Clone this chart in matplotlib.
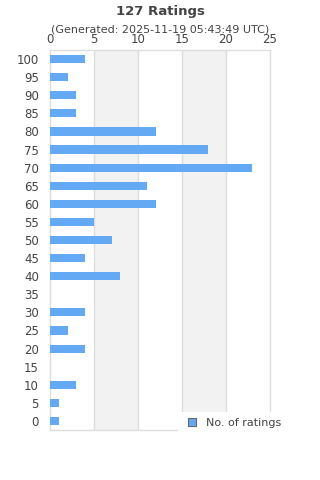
import matplotlib
matplotlib.use("Agg")
import matplotlib.pyplot as plt
from matplotlib.patches import Patch, Rectangle

categories = ["100", "95", "90", "85", "80", "75", "70", "65", "60", "55", "50",
              "45", "40", "35", "30", "25", "20", "15", "10", "5", "0"]
counts = [4, 2, 3, 3, 12, 18, 23, 11, 12, 5, 7, 4, 8, 0, 4, 2, 4, 0, 3, 1, 1]
x_ticks = [0, 5, 10, 15, 20, 25]
title = "127 Ratings"
subtitle = "(Generated: 2025-11-19 05:43:49 UTC)"
series_name = "No. of ratings"

bar_color = "#63a9f3"
text_color = "#444444"

fig = plt.figure(figsize=(3.2, 4.8), dpi=100)
ax = fig.add_axes([50/320, 1 - 430/480, 220/320, 380/480])

ypos = list(range(len(categories)))
ax.barh(ypos, counts, height=0.45, color=bar_color, zorder=3)
ax.set_ylim(len(categories) - 0.5, -0.5)
ax.set_xlim(0, 25)

# alternating bands
for i in range(len(x_ticks) - 1):
    if i % 2 == 1:
        ax.axvspan(x_ticks[i], x_ticks[i + 1], color="#f2f2f2", zorder=0, lw=0)
for t in x_ticks[1:-1]:
    ax.axvline(t, color="#dddddd", lw=1, zorder=1)

ax.set_yticks(ypos)
ax.set_yticklabels(categories)
ax.set_xticks(x_ticks)
ax.xaxis.tick_top()
ax.tick_params(axis="both", length=0, labelsize=8.5, colors=text_color)
ax.tick_params(axis="x", pad=3)
ax.tick_params(axis="y", pad=8)
for s in ax.spines.values():
    s.set_color("#dddddd")
    s.set_linewidth(1)

fig.text(0.5, 1 - 11/480, title, ha="center", va="center", fontsize=9.5,
         fontweight="bold", color=text_color)
fig.text(0.5, 1 - 30/480, subtitle, ha="center", va="center", fontsize=8,
         color=text_color)

# white legend background overlapping the plot corner
bg = Rectangle((178/320, 1 - 446/480), 122/320, 34/480,
               transform=fig.transFigure, facecolor="white",
               edgecolor="none", zorder=2)
fig.add_artist(bg)

handle = Patch(facecolor=bar_color, edgecolor="#666666", linewidth=0.8)
leg = fig.legend([handle], [series_name], loc="center left",
                 bbox_to_anchor=(180/320, 1 - 423/480), frameon=False,
                 fontsize=8, handlelength=0.7, handleheight=0.7,
                 handletextpad=0.9, borderpad=0.2, labelcolor=text_color)
leg.set_zorder(5)

fig.savefig("out.png", dpi=100)
